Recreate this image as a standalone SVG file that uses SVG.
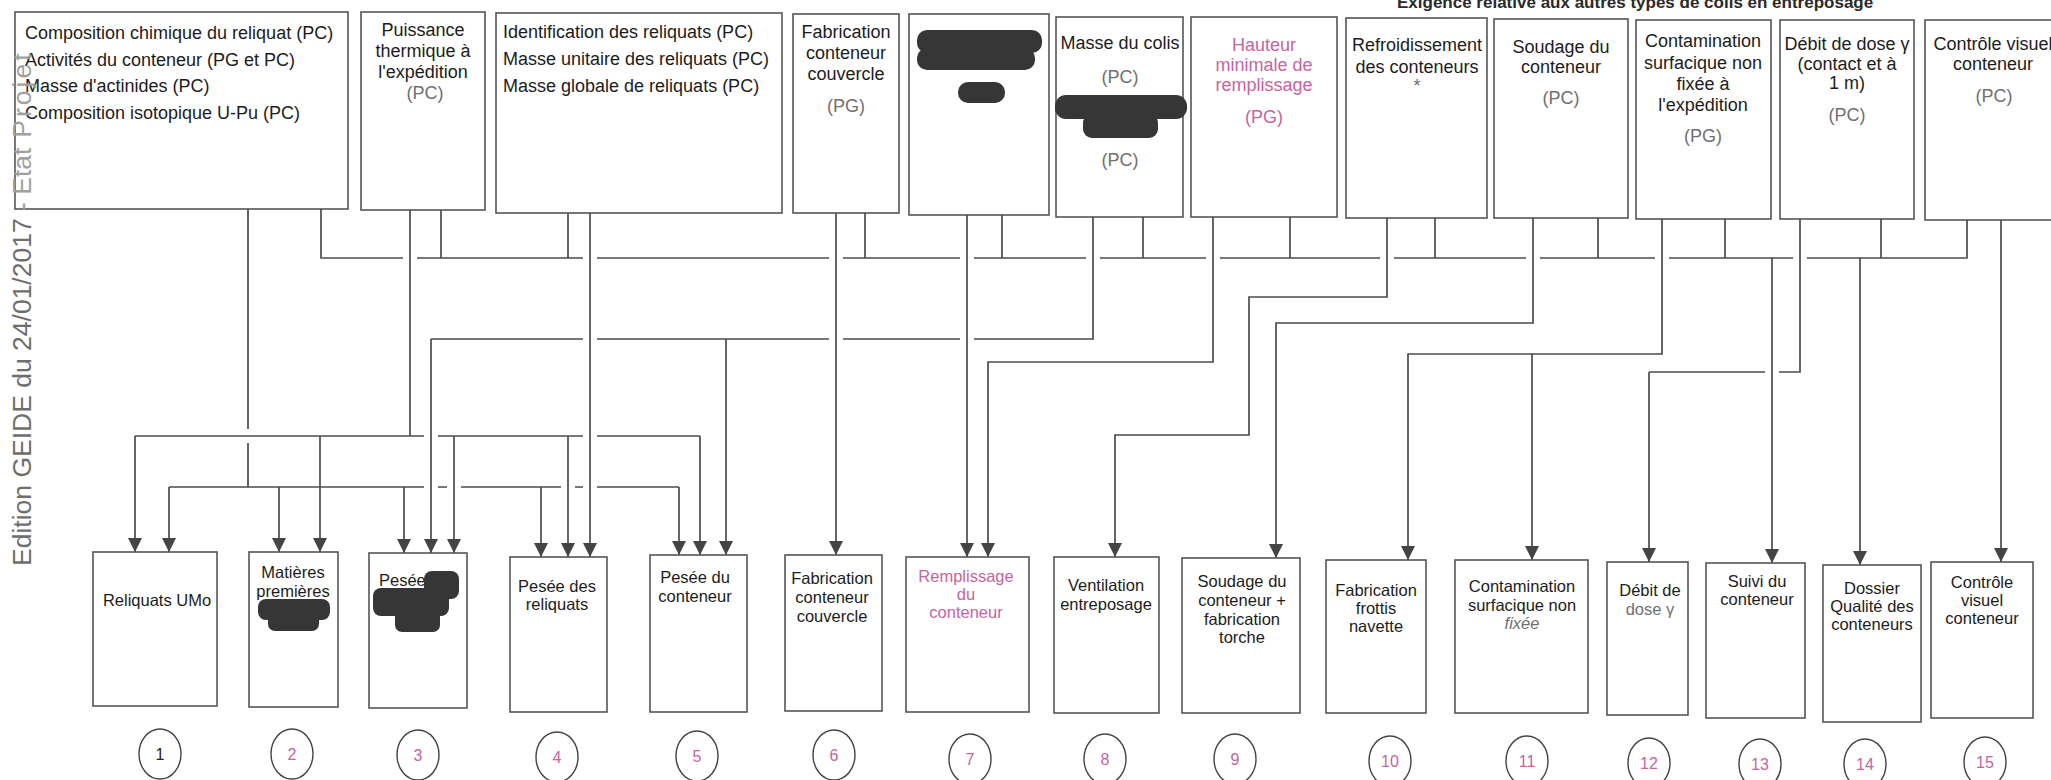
<svg xmlns="http://www.w3.org/2000/svg" width="2051" height="780" viewBox="0 0 2051 780">
<defs>
<style>
.box{fill:#fff;stroke:#555;stroke-width:1.6}
.t{font-family:"Liberation Sans",Arial,sans-serif;font-size:18px;fill:#1c1c1c}
.c{text-anchor:middle}
.g{fill:#707070}
.p{fill:#c5649f}
.s{font-size:16.5px}
.ln{fill:none;stroke:#4c4c4c;stroke-width:1.7}
.ar{fill:none;stroke:#4c4c4c;stroke-width:1.7;marker-end:url(#ah)}
.blob{fill:#363636}
.num{fill:#fff;stroke:#444;stroke-width:1.4}
.n{font-family:"Liberation Sans",Arial,sans-serif;font-size:16px;text-anchor:middle;fill:#c5649f}
</style>
<marker id="ah" viewBox="0 0 14 14" refX="14" refY="7" markerWidth="14" markerHeight="14" markerUnits="userSpaceOnUse" orient="auto"><path d="M0,0 L14,7 L0,14 z" fill="#444"/></marker>
</defs>
<rect width="2051" height="780" fill="#fff"/>
<text x="1397" y="8" font-family="Liberation Sans, Arial, sans-serif" font-size="17" font-weight="bold" fill="#2a2a2a">Exigence relative aux autres types de colis en entreposage</text>

<g id="top-composition">
<rect class="box" x="15" y="12" width="333" height="197"/>
<text class="t" x="25" y="39">Composition chimique du reliquat (PC)</text>
<text class="t" x="25" y="66">Activités du conteneur (PG et PC)</text>
<text class="t" x="25" y="92">Masse d'actinides (PC)</text>
<text class="t" x="25" y="119">Composition isotopique U-Pu (PC)</text>
</g>
<g id="top-puissance">
<rect class="box" x="361" y="12" width="124" height="198"/>
<text class="t c" x="423" y="36">Puissance</text>
<text class="t c" x="423" y="57">thermique à</text>
<text class="t c" x="423" y="78">l'expédition</text>
<text class="t c g" x="425" y="99">(PC)</text>
</g>
<g id="top-identification">
<rect class="box" x="496" y="13" width="286" height="200"/>
<text class="t" x="503" y="38">Identification des reliquats (PC)</text>
<text class="t" x="503" y="65">Masse unitaire des reliquats (PC)</text>
<text class="t" x="503" y="92">Masse globale de reliquats (PC)</text>
</g>
<g id="top-fabrication">
<rect class="box" x="793" y="14" width="106" height="199"/>
<text class="t c" x="846" y="38">Fabrication</text>
<text class="t c" x="846" y="59">conteneur</text>
<text class="t c" x="846" y="80">couvercle</text>
<text class="t c g" x="846" y="112">(PG)</text>
</g>
<g id="top-redacted">
<rect class="box" x="909" y="14" width="140" height="201"/>
<rect class="blob" x="917" y="30" width="125" height="23" rx="10"/>
<rect class="blob" x="917" y="48" width="118" height="22" rx="10"/>
<rect class="blob" x="958" y="82" width="47" height="21" rx="10"/>
</g>
<g id="top-masse-colis">
<rect class="box" x="1056" y="17" width="127" height="200"/>
<text class="t c" x="1120" y="49">Masse du colis</text>
<text class="t c g" x="1120" y="83">(PC)</text>
<rect class="blob" x="1055" y="95" width="132" height="24" rx="11"/>
<rect class="blob" x="1083" y="114" width="75" height="24" rx="9"/>
<text class="t c g" x="1120" y="166">(PC)</text>
</g>
<g id="top-hauteur">
<rect class="box" x="1191" y="17" width="146" height="200"/>
<text class="t c p" x="1264" y="51">Hauteur</text>
<text class="t c p" x="1264" y="71">minimale de</text>
<text class="t c p" x="1264" y="91">remplissage</text>
<text class="t c p" x="1264" y="123">(PG)</text>
</g>
<g id="top-refroidissement">
<rect class="box" x="1346" y="18" width="141" height="200"/>
<text class="t c" x="1417" y="51">Refroidissement</text>
<text class="t c" x="1417" y="73">des conteneurs</text>
<text class="t c g" x="1417" y="92" font-size="14">*</text>
</g>
<g id="top-soudage">
<rect class="box" x="1494" y="19" width="134" height="199"/>
<text class="t c" x="1561" y="53">Soudage du</text>
<text class="t c" x="1561" y="73">conteneur</text>
<text class="t c g" x="1561" y="104">(PC)</text>
</g>
<g id="top-contamination">
<rect class="box" x="1636" y="20" width="135" height="199"/>
<text class="t c" x="1703" y="47">Contamination</text>
<text class="t c" x="1703" y="69">surfacique non</text>
<text class="t c" x="1703" y="90">fixée à</text>
<text class="t c" x="1703" y="111">l'expédition</text>
<text class="t c g" x="1703" y="142">(PG)</text>
</g>
<g id="top-debit">
<rect class="box" x="1780" y="20" width="134" height="199"/>
<text class="t c" x="1847" y="50">Débit de dose γ</text>
<text class="t c" x="1847" y="70">(contact et à</text>
<text class="t c" x="1847" y="89">1 m)</text>
<text class="t c g" x="1847" y="121">(PC)</text>
</g>
<g id="top-controle">
<rect class="box" x="1925" y="20" width="140" height="200"/>
<text class="t c" x="1993" y="50">Contrôle visuel</text>
<text class="t c" x="1993" y="70">conteneur</text>
<text class="t c g" x="1994" y="102">(PC)</text>
</g>

<g id="connectors">
<path class="ln" d="M321,209 V258 H403 M417,258 H583 M597,258 H829 M843,258 H960 M974,258 H1086 M1100,258 H1206 M1220,258 H1380 M1394,258 H1526 M1540,258 H1655 M1669,258 H1793 M1807,258 H1967 V220"/>
<path class="ln" d="M441,210 V258 M568,213 V258 M865,213 V258 M1002,215 V258 M1143,217 V258 M1290,217 V258 M1435,218 V258 M1598,218 V258 M1725,219 V258 M1881,219 V258"/>
<path class="ar" d="M1772,258 V563"/>
<path class="ar" d="M1860,258 V565"/>
<path class="ln" d="M248,209 V429 M248,443 V487"/>
<path class="ln" d="M169,487 H424 M438,487 H447 M461,487 H561 M575,487 H583 M597,487 H679"/>
<path class="ar" d="M169,487 V552"/>
<path class="ar" d="M279,487 V552"/>
<path class="ar" d="M404,487 V553"/>
<path class="ar" d="M541,487 V557"/>
<path class="ar" d="M679,487 V555"/>
<path class="ln" d="M410,210 V436"/>
<path class="ln" d="M135,436 H424 M438,436 H583 M597,436 H700"/>
<path class="ar" d="M135,436 V552"/>
<path class="ar" d="M320,436 V552"/>
<path class="ar" d="M454,436 V553"/>
<path class="ar" d="M568,436 V557"/>
<path class="ar" d="M700,436 V555"/>
<path class="ar" d="M590,213 V557"/>
<path class="ar" d="M836,213 V555"/>
<path class="ar" d="M967,215 V557"/>
<path class="ln" d="M1093,217 V339 H974 M960,339 H843 M829,339 H597 M583,339 H431"/>
<path class="ar" d="M431,339 V553"/>
<path class="ar" d="M726,339 V555"/>
<path class="ar" d="M1213,217 V362 H988 V557"/>
<path class="ar" d="M1387,218 V297 H1249 V435 H1115 V557"/>
<path class="ar" d="M1533,218 V323 H1276 V558"/>
<path class="ar" d="M1662,219 V354 H1408 V560"/>
<path class="ar" d="M1532,354 V560"/>
<path class="ln" d="M1800,219 V372 H1779 M1765,372 H1649"/>
<path class="ar" d="M1649,372 V562"/>
<path class="ar" d="M2001,220 V562"/>
</g>

<g id="b1">
<rect class="box" x="93" y="552" width="124" height="154"/>
<text class="t s c" x="157" y="606">Reliquats UMo</text>
<ellipse class="num" cx="160" cy="754" rx="21" ry="25"/><text class="n" x="160" y="760" style="fill:#222">1</text>
</g>
<g id="b2">
<rect class="box" x="249" y="552" width="89" height="155"/>
<text class="t s c" x="293" y="578">Matières</text>
<text class="t s c" x="293" y="597">premières</text>
<rect class="blob" x="258" y="599" width="72" height="21" rx="8"/>
<rect class="blob" x="268" y="612" width="51" height="19" rx="7"/>
<ellipse class="num" cx="292" cy="754" rx="21" ry="25"/><text class="n" x="292" y="760">2</text>
</g>
<g id="b3">
<rect class="box" x="369" y="553" width="98" height="155"/>
<text class="t s" x="379" y="586">Pesée</text>
<rect class="blob" x="424" y="571" width="35" height="28" rx="8"/>
<rect class="blob" x="373" y="588" width="76" height="28" rx="8"/>
<rect class="blob" x="395" y="606" width="45" height="26" rx="7"/>
<ellipse class="num" cx="418" cy="755" rx="21" ry="25"/><text class="n" x="418" y="761">3</text>
</g>
<g id="b4">
<rect class="box" x="510" y="557" width="97" height="155"/>
<text class="t s c" x="557" y="592">Pesée des</text>
<text class="t s c" x="557" y="610">reliquats</text>
<ellipse class="num" cx="557" cy="757" rx="21" ry="25"/><text class="n" x="557" y="763">4</text>
</g>
<g id="b5">
<rect class="box" x="650" y="555" width="97" height="157"/>
<text class="t s c" x="695" y="583">Pesée du</text>
<text class="t s c" x="695" y="602">conteneur</text>
<ellipse class="num" cx="697" cy="756" rx="21" ry="25"/><text class="n" x="697" y="762">5</text>
</g>
<g id="b6">
<rect class="box" x="785" y="555" width="97" height="156"/>
<text class="t s c" x="832" y="584">Fabrication</text>
<text class="t s c" x="832" y="603">conteneur</text>
<text class="t s c" x="832" y="622">couvercle</text>
<ellipse class="num" cx="834" cy="755" rx="21" ry="25"/><text class="n" x="834" y="761">6</text>
</g>
<g id="b7">
<rect class="box" x="906" y="557" width="123" height="155"/>
<text class="t s c p" x="966" y="582">Remplissage</text>
<text class="t s c p" x="966" y="600">du</text>
<text class="t s c p" x="966" y="618">conteneur</text>
<ellipse class="num" cx="970" cy="759" rx="21" ry="25"/><text class="n" x="970" y="765">7</text>
</g>
<g id="b8">
<rect class="box" x="1054" y="557" width="105" height="156"/>
<text class="t s c" x="1106" y="591">Ventilation</text>
<text class="t s c" x="1106" y="610">entreposage</text>
<ellipse class="num" cx="1105" cy="759" rx="21" ry="25"/><text class="n" x="1105" y="765">8</text>
</g>
<g id="b9">
<rect class="box" x="1182" y="558" width="118" height="155"/>
<text class="t s c" x="1242" y="587">Soudage du</text>
<text class="t s c" x="1242" y="606">conteneur +</text>
<text class="t s c" x="1242" y="625">fabrication</text>
<text class="t s c" x="1242" y="643">torche</text>
<ellipse class="num" cx="1235" cy="759" rx="21" ry="25"/><text class="n" x="1235" y="765">9</text>
</g>
<g id="b10">
<rect class="box" x="1326" y="560" width="100" height="153"/>
<text class="t s c" x="1376" y="596">Fabrication</text>
<text class="t s c" x="1376" y="614">frottis</text>
<text class="t s c" x="1376" y="632">navette</text>
<ellipse class="num" cx="1390" cy="761" rx="21" ry="25"/><text class="n" x="1390" y="767">10</text>
</g>
<g id="b11">
<rect class="box" x="1455" y="560" width="133" height="153"/>
<text class="t s c" x="1522" y="592">Contamination</text>
<text class="t s c" x="1522" y="611">surfacique non</text>
<text class="t s c g" x="1522" y="629" font-style="italic">fixée</text>
<ellipse class="num" cx="1527" cy="761" rx="21" ry="25"/><text class="n" x="1527" y="767">11</text>
</g>
<g id="b12">
<rect class="box" x="1607" y="562" width="81" height="153"/>
<text class="t s c" x="1650" y="596">Débit de</text>
<text class="t s c g" x="1650" y="615">dose γ</text>
<ellipse class="num" cx="1649" cy="763" rx="21" ry="25"/><text class="n" x="1649" y="769">12</text>
</g>
<g id="b13">
<rect class="box" x="1706" y="563" width="99" height="155"/>
<text class="t s c" x="1757" y="587">Suivi du</text>
<text class="t s c" x="1757" y="605">conteneur</text>
<ellipse class="num" cx="1760" cy="764" rx="21" ry="25"/><text class="n" x="1760" y="770">13</text>
</g>
<g id="b14">
<rect class="box" x="1823" y="565" width="98" height="157"/>
<text class="t s c" x="1872" y="594">Dossier</text>
<text class="t s c" x="1872" y="612">Qualité des</text>
<text class="t s c" x="1872" y="630">conteneurs</text>
<ellipse class="num" cx="1865" cy="764" rx="21" ry="25"/><text class="n" x="1865" y="770">14</text>
</g>
<g id="b15">
<rect class="box" x="1931" y="562" width="102" height="156"/>
<text class="t s c" x="1982" y="588">Contrôle</text>
<text class="t s c" x="1982" y="606">visuel</text>
<text class="t s c" x="1982" y="624">conteneur</text>
<ellipse class="num" cx="1985" cy="762" rx="21" ry="25"/><text class="n" x="1985" y="768">15</text>
</g>

<text transform="translate(31,566) rotate(-90)" font-family="Liberation Sans, Arial, sans-serif" font-size="26.5" fill="#6e6e6e">Edition GEIDE du 24/01/2017 <tspan fill="#a0a0a0">- Etat</tspan><tspan fill="#a0a0a0" dx="10" letter-spacing="3">Projet</tspan></text>
</svg>
